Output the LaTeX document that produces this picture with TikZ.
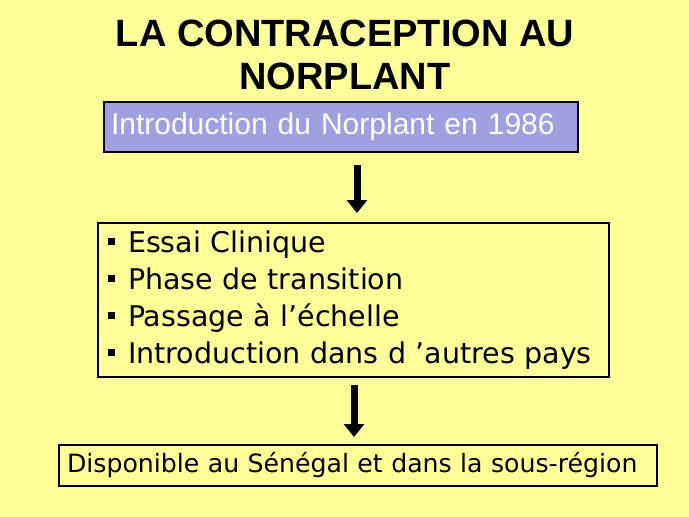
\documentclass[tikz,border=0pt]{standalone}
\usepackage{fontspec}
\setmainfont{Liberation Sans}
\newfontfamily\handfont{DejaVu Sans}
\usetikzlibrary{arrows.meta}
\definecolor{slidebg}{RGB}{255,255,153}
\definecolor{introfill}{RGB}{160,160,224}
\newcommand{\squarebullet}{\rule[7.5pt]{7pt}{7pt}\hspace{13pt}}
\begin{document}
\begin{tikzpicture}[x=1pt,y=-1pt,
  box/.style={draw, line width=2pt, inner ysep=0pt, anchor=north west},
  bigarrow/.style={line width=7pt, -{Triangle[width=20pt,length=13pt]}}]
\fill[slidebg] (0,0) rectangle (689,517);
% title
\node[font=\bfseries\fontsize{38}{43}\selectfont, anchor=base] (title1) at (345,46) {LA CONTRACEPTION AU};
\node[font=\bfseries\fontsize{38}{43}\selectfont, anchor=base] (title2) at (345,89) {NORPLANT};
% boxes
\node[box, fill=introfill, text=white, minimum width=474pt, minimum height=50pt, inner xsep=7pt, text width=460pt, align=left, font=\fontsize{30}{36}\selectfont] (intro) at (103,101) {Introduction du Norplant en 1986};
\node[box, minimum width=511pt, minimum height=154pt, inner xsep=10pt, text width=491pt, align=left, font=\handfont\fontsize{28.5}{37}\selectfont] (steps) at (97,222)
  {\squarebullet Essai Clinique\\
   \squarebullet Phase de transition\\
   \squarebullet Passage à l’échelle\\
   \squarebullet Introduction dans d ’autres pays};
\node[box, minimum width=598pt, minimum height=41pt, inner xsep=8pt, text width=582pt, align=left, font=\handfont\fontsize{25.2}{30}\selectfont] (avail) at (58,444) {Disponible au Sénégal et dans la sous-région};
% arrows
\coordinate (shaft1) at (357,0);
\coordinate (shaft2) at (354,0);
\draw[bigarrow, shorten <=12pt, shorten >=9pt] (intro.south -| shaft1) -- (steps.north -| shaft1);
\draw[bigarrow, shorten <=7pt, shorten >=7pt] (steps.south -| shaft2) -- (avail.north -| shaft2);
\end{tikzpicture}
\end{document}
